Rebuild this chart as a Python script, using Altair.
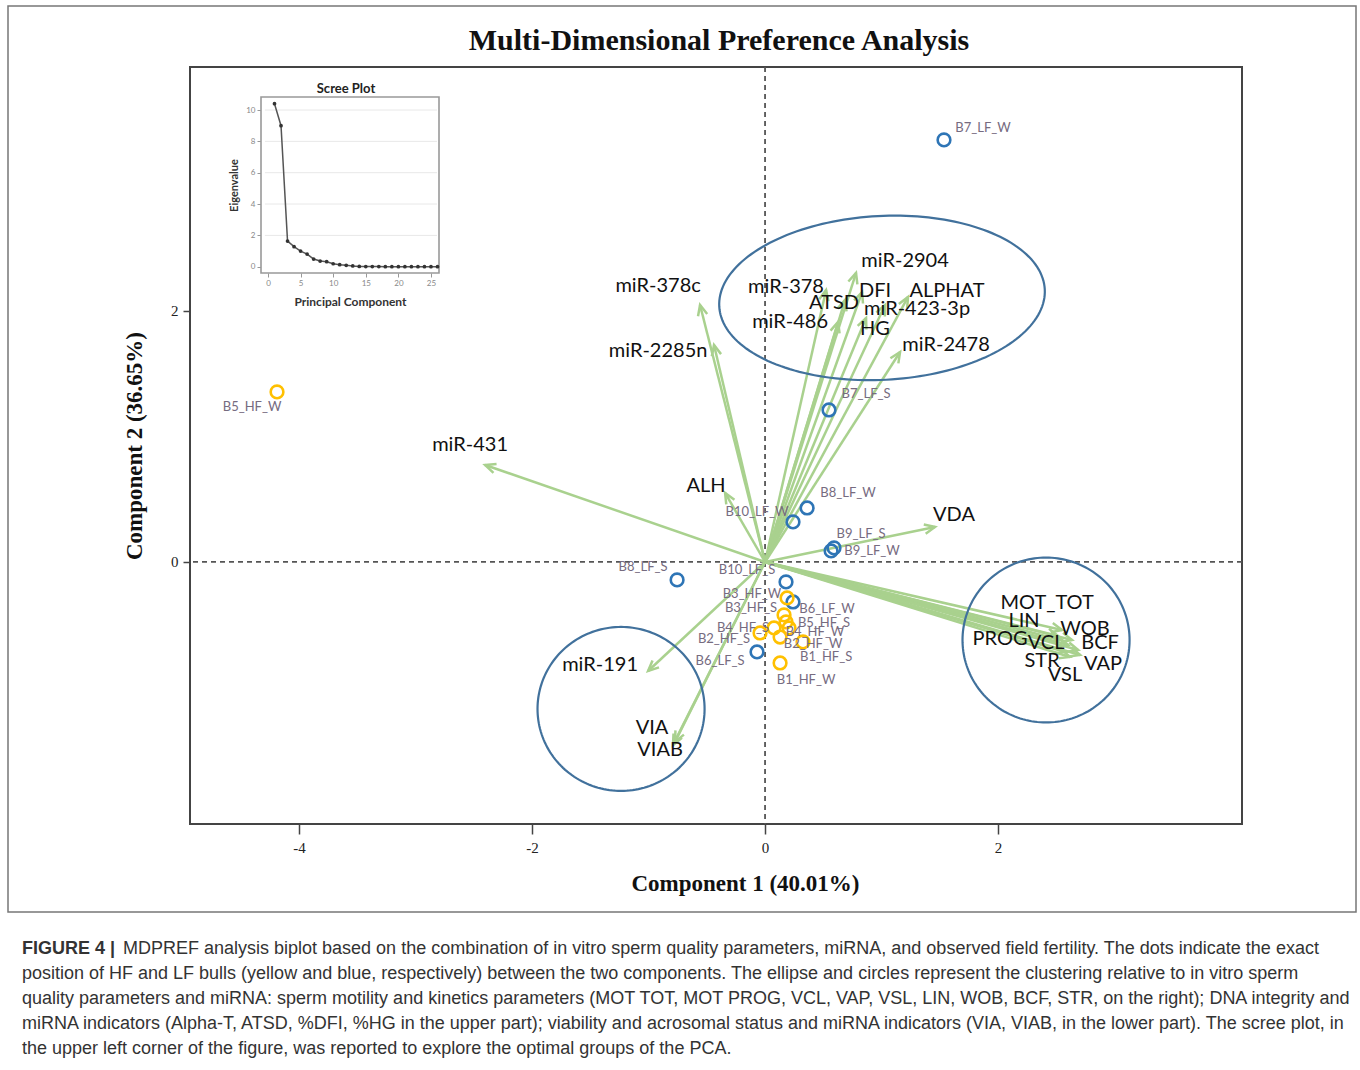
import altair as alt
import numpy as np
import pandas as pd

# ---------------- values ----------------
obs_names = ["B7_LF_W", "B5_HF_W", "B7_LF_S", "B8_LF_W", "B10_LF_W", "B9_LF_S", "B9_LF_W",
             "B8_LF_S", "B10_LF_S", "B6_LF_W", "B6_LF_S", "B3_HF_W", "B3_HF_S", "B5_HF_S",
             "B4_HF_W", "B4_HF_S", "B2_HF_S", "B2_HF_W", "B1_HF_S", "B1_HF_W"]
obs_x = [1.536, -4.189, 0.549, 0.361, 0.240, 0.592, 0.567, -0.755, 0.180, 0.240, -0.069,
         0.189, 0.163, 0.180, 0.206, 0.077, -0.043, 0.129, 0.326, 0.129]
obs_y = [3.363, 1.355, 1.211, 0.430, 0.319, 0.112, 0.088, -0.143, -0.159, -0.319, -0.717,
         -0.287, -0.422, -0.478, -0.526, -0.526, -0.566, -0.598, -0.637, -0.805]
obs_label_x = [1.871, -4.403, 0.867, 0.712, -0.069, 0.824, 0.918, -1.047, -0.155, 0.532, -0.386,
               -0.112, -0.120, 0.506, 0.429, -0.189, -0.352, 0.412, 0.524, 0.352]
obs_label_y = [3.458, 1.235, 1.339, 0.550, 0.398, 0.223, 0.088, -0.040, -0.064, -0.375, -0.789,
               -0.255, -0.367, -0.486, -0.558, -0.526, -0.614, -0.653, -0.757, -0.940]

var_names = ["miR-378c", "miR-2285n", "miR-431", "ALH", "VDA", "miR-191", "VIA", "VIAB",
             "miR-2904", "miR-378", "ATSD", "DFI", "ALPHAT", "miR-423-3p", "miR-486", "HG",
             "miR-2478", "MOT_TOT", "LIN", "PROG", "VCL", "WOB", "BCF", "STR", "VAP", "VSL"]
var_x = [-0.558, -0.438, -2.403, -0.343, 1.459, -1.004, -0.773, -0.790,
         0.781, 0.524, 0.687, 0.833, 1.227, 1.030, 0.627, 0.867,
         1.159, 2.549, 2.515, 2.532, 2.601, 2.635, 2.687, 2.575, 2.704, 2.618]
var_y = [2.048, 1.729, 0.773, 0.550, 0.279, -0.869, -1.434, -1.458,
         2.303, 2.167, 2.088, 2.151, 2.112, 2.048, 1.912, 1.944,
         1.673, -0.542, -0.590, -0.622, -0.661, -0.622, -0.701, -0.717, -0.741, -0.757]
var_label_x = [-0.918, -0.918, -2.532, -0.506, 1.622, -1.416, -0.970, -0.901,
               1.202, 0.180, 0.592, 0.944, 1.562, 1.305, 0.215, 0.944,
               1.554, 2.421, 2.223, 2.017, 2.412, 2.747, 2.876, 2.378, 2.901, 2.575]
var_label_y = [2.199, 1.681, 0.932, 0.606, 0.375, -0.821, -1.323, -1.498,
               2.398, 2.191, 2.064, 2.159, 2.159, 2.016, 1.912, 1.857,
               1.729, -0.327, -0.470, -0.614, -0.645, -0.534, -0.645, -0.789, -0.813, -0.900]

# cluster ellipses: centre, radii (data units), tilt (degrees)
ell_cx = [1.004, 2.412, -1.236]
ell_cy = [2.104, -0.622, -1.171]
ell_rx = [1.399, 0.717, 0.717]
ell_ry = [0.653, 0.657, 0.653]
ell_tilt = [3.0, 0.0, 0.0]

# scree plot
scree_pc = list(range(1, 27))
scree_eig = [10.4, 9.0, 1.64, 1.28, 1.0, 0.81, 0.49, 0.36, 0.32, 0.19, 0.13, 0.09, 0.05,
             0.02, 0.01, 0.01, 0.01, 0.005, 0.005, 0.004, 0.003, 0.002, 0.002, 0.001, 0.001, 0.0]

x_ticks = [-4, -2, 0, 2]
y_ticks = [0, 2]
scree_x_ticks = [0, 5, 10, 15, 20, 25]
scree_y_ticks = [0, 2, 4, 6, 8, 10]
scree_grid = [2, 4, 6, 8, 10]

main_title = "Multi-Dimensional Preference Analysis"
caption_l1a = "FIGURE 4 |"
caption_l1b = ("MDPREF analysis biplot based on the combination of in vitro sperm quality parameters, "
               "miRNA, and observed field fertility. The dots indicate the exact")
caption_rest = [
    "position of HF and LF bulls (yellow and blue, respectively) between the two components. "
    "The ellipse and circles represent the clustering relative to in vitro sperm",
    "quality parameters and miRNA: sperm motility and kinetics parameters (MOT TOT, MOT PROG, "
    "VCL, VAP, VSL, LIN, WOB, BCF, STR, on the right); DNA integrity and",
    "miRNA indicators (Alpha-T, ATSD, %DFI, %HG in the upper part); viability and acrosomal "
    "status and miRNA indicators (VIA, VIAB, in the lower part). The scree plot, in",
    "the upper left corner of the figure, was reported to explore the optimal groups of the PCA.",
]

# ---------------- layout / style ----------------
W, H = 1052, 757
LEFT, TOP = 190, 67
XDOM = [-4.936, 4.094]
YDOM = [-2.088, 3.944]
px_x = W / (XDOM[1] - XDOM[0])
px_y = H / (YDOM[1] - YDOM[0])

SC_XDOM = [-1.07, 26.23]
SC_YDOM = [-0.40, 10.83]
SC_XR = [261 - LEFT, 439 - LEFT]
SC_YR = [273 - TOP, 97 - TOP]

GREEN = "#A9D18E"
BLUE = "#2E75B6"
YELLOW = "#FFC000"
ELL = "#41719C"
SERIF = "Liberation Serif"
SANS = "Lato"
CAPF = "Liberation Sans"
HEAD = "M -0.45 1 L 0 0 L 0.45 1"

x_axis = alt.Axis(values=x_ticks, title="Component 1 (40.01%)", grid=False, domain=False,
                  tickSize=10, tickColor="#444", tickWidth=1.5, labelFont=SERIF, labelFontSize=15,
                  labelColor="#222", labelPadding=6, labelExpr="datum.value",
                  titleFont=SERIF, titleFontSize=23, titleFontWeight="bold", titleColor="#111",
                  titleX=745 - LEFT, titleY=59, titleAlign="center", titleBaseline="middle")
y_axis = alt.Axis(values=y_ticks, title="Component 2 (36.65%)", grid=False, domain=False,
                  tickSize=7, tickColor="#444", tickWidth=1.5, labelFont=SERIF, labelFontSize=15,
                  labelColor="#222", labelPadding=5, labelExpr="datum.value",
                  titleFont=SERIF, titleFontSize=23, titleFontWeight="bold", titleColor="#111",
                  titlePadding=24)
xs = alt.Scale(domain=XDOM, nice=False, zero=False)
ys = alt.Scale(domain=YDOM, nice=False, zero=False)


def MX(f):
    return alt.X(f, type="quantitative", scale=xs, axis=x_axis)


def MY(f):
    return alt.Y(f, type="quantitative", scale=ys, axis=y_axis)


# ---------------- data frames ----------------
odf = pd.DataFrame({"name": obs_names, "x": obs_x, "y": obs_y, "lx": obs_label_x, "ly": obs_label_y})
odf["group"] = ["HF" if "_HF_" in n else "LF" for n in obs_names]

vdf = pd.DataFrame({"name": var_names, "x": var_x, "y": var_y, "lx": var_label_x, "ly": var_label_y})
vdf["x0"] = 0.0
vdf["y0"] = 0.0
vdf["ang"] = (np.degrees(np.arctan2(vdf["x"] * px_x, vdf["y"] * px_y)) + 360) % 360

rows = []
tt = np.linspace(0, 2 * np.pi, 181)
for i in range(len(ell_cx)):
    a = np.radians(ell_tilt[i])
    ux = ell_rx[i] * px_x * np.cos(tt)
    uy = ell_ry[i] * px_y * np.sin(tt)
    rx_ = ux * np.cos(a) - uy * np.sin(a)
    ry_ = ux * np.sin(a) + uy * np.cos(a)
    for k in range(len(tt)):
        rows.append({"eid": i, "k": k, "x": ell_cx[i] + rx_[k] / px_x, "y": ell_cy[i] + ry_[k] / px_y})
edf = pd.DataFrame(rows)

sdf = pd.DataFrame({"pc": scree_pc, "eig": scree_eig})
gdf = pd.DataFrame({"g": scree_grid, "xa": SC_XDOM[0] + 0.6, "xb": SC_XDOM[1] - 0.3})
fdf = pd.DataFrame({"x1": [SC_XDOM[0]], "x2": [SC_XDOM[1]], "y1": [SC_YDOM[0]], "y2": [SC_YDOM[1]]})

one = pd.DataFrame({"t": ["Scree Plot"]})

# ---------------- main biplot ----------------
zero_v = alt.Chart(pd.DataFrame({"x": [0.0]})).mark_rule(
    strokeDash=[5, 4], color="#555", strokeWidth=1.8).encode(x=MX("x"))
zero_h = alt.Chart(pd.DataFrame({"y": [0.0]})).mark_rule(
    strokeDash=[5, 4], color="#555", strokeWidth=1.8).encode(y=MY("y"))

arrows = alt.Chart(vdf).mark_rule(color=GREEN, strokeWidth=2.5).encode(
    x=MX("x0"), y=MY("y0"), x2="x", y2="y")
heads = alt.Chart(vdf).mark_point(shape=HEAD, filled=False, size=441, strokeWidth=2.5,
                                  color=GREEN, opacity=1).encode(
    x=MX("x"), y=MY("y"), angle=alt.Angle("ang:Q", scale=None))

ellipses = alt.Chart(edf).mark_line(color=ELL, strokeWidth=2.2).encode(
    x=MX("x"), y=MY("y"), detail="eid:N", order="k:Q")

circles = alt.Chart(odf).mark_point(shape="circle", filled=False, size=160, strokeWidth=2.6,
                                    opacity=1).encode(
    x=MX("x"), y=MY("y"),
    color=alt.Color("group:N", scale=alt.Scale(domain=["HF", "LF"], range=[YELLOW, BLUE]), legend=None))

obs_text = alt.Chart(odf).mark_text(font=SANS, fontSize=13, color="#766b80").encode(
    x=MX("lx"), y=MY("ly"), text="name:N")

var_text = alt.Chart(vdf).mark_text(font=SANS, fontSize=20, color="#111").encode(
    x=MX("lx"), y=MY("ly"), text="name:N")

border = alt.Chart(pd.DataFrame({"t": [1]})).mark_rect(
    fillOpacity=0, stroke="#777", strokeWidth=1.5).encode(
    x=alt.value(8 - LEFT), x2=alt.value(1356 - LEFT), y=alt.value(6 - TOP), y2=alt.value(912 - TOP))

title_txt = alt.Chart(pd.DataFrame({"t": [main_title]})).mark_text(
    font=SERIF, fontSize=30, fontWeight="bold", color="#111", align="center",
    baseline="middle").encode(x=alt.value(719 - LEFT), y=alt.value(41 - TOP), text="t:N")

cap1a = alt.Chart(pd.DataFrame({"t": [caption_l1a]})).mark_text(
    font=CAPF, fontSize=18, fontWeight="bold", color="#333", align="left",
    baseline="alphabetic").encode(x=alt.value(22 - LEFT), y=alt.value(954 - TOP), text="t:N")
cap1b = alt.Chart(pd.DataFrame({"t": [caption_l1b]})).mark_text(
    font=CAPF, fontSize=18, color="#333", align="left",
    baseline="alphabetic").encode(x=alt.value(123 - LEFT), y=alt.value(954 - TOP), text="t:N")
cap2 = alt.Chart(pd.DataFrame({"t": ["\n".join(caption_rest)]})).mark_text(
    font=CAPF, fontSize=18, color="#333", align="left", baseline="alphabetic",
    lineBreak="\n", lineHeight=25).encode(x=alt.value(22 - LEFT), y=alt.value(979 - TOP), text="t:N")

main = alt.layer(border, zero_v, zero_h, arrows, heads, ellipses, circles, obs_text, var_text,
                 title_txt, cap1a, cap1b, cap2)

# ---------------- scree inset ----------------
sxs = alt.Scale(domain=SC_XDOM, range=SC_XR, nice=False, zero=False)
sys_ = alt.Scale(domain=SC_YDOM, range=SC_YR, nice=False, zero=False)
sx_axis = alt.Axis(orient="bottom", offset=-(H - SC_YR[0]), values=scree_x_ticks, grid=False,
                   domain=False, tickSize=4, tickColor="#999", labelFont=SANS, labelFontSize=8,
                   labelColor="#888", labelPadding=2, title="Principal Component", titleFont=SANS,
                   titleFontSize=12, titleColor="#333", titleFontWeight="bold", titlePadding=9)
sy_axis = alt.Axis(orient="left", offset=-SC_XR[0], values=scree_y_ticks, grid=False,
                   domain=False, tickSize=4, tickColor="#999", labelFont=SANS, labelFontSize=8,
                   labelColor="#888", labelPadding=2, title="Eigenvalue", titleFont=SANS,
                   titleFontSize=11, titleColor="#333", titleFontWeight="bold", titlePadding=6)


def SX(f):
    return alt.X(f, type="quantitative", scale=sxs, axis=sx_axis)


def SY(f):
    return alt.Y(f, type="quantitative", scale=sys_, axis=sy_axis)


s_frame = alt.Chart(fdf).mark_rect(fill="white", stroke="#999", strokeWidth=1.6).encode(
    x=SX("x1"), x2="x2", y=SY("y1"), y2="y2")
s_grid = alt.Chart(gdf).mark_rule(color="#e8e8e8", strokeWidth=1).encode(
    y=SY("g"), x=SX("xa"), x2="xb")
s_line = alt.Chart(sdf).mark_line(color="#555", strokeWidth=1.5).encode(x=SX("pc"), y=SY("eig"))
s_pts = alt.Chart(sdf).mark_circle(color="#333", size=14, opacity=1).encode(x=SX("pc"), y=SY("eig"))
s_title = alt.Chart(one).mark_text(font=SANS, fontSize=13, fontWeight="bold", color="#222").encode(
    x=alt.value(346 - LEFT), y=alt.value(89 - TOP), text="t:N")

inset = alt.layer(s_frame, s_grid, s_line, s_pts, s_title)

chart = alt.layer(main, inset).resolve_scale(x="independent", y="independent").properties(
    width=W, height=H,
    autosize=alt.AutoSizeParams(type="none"),
    padding={"left": LEFT, "top": TOP, "right": 1360 - LEFT - W, "bottom": 1070 - TOP - H},
    background="white",
).configure_view(stroke="#444", strokeWidth=2)

chart.save("out.html", embed_options={"renderer": "svg", "actions": False})
